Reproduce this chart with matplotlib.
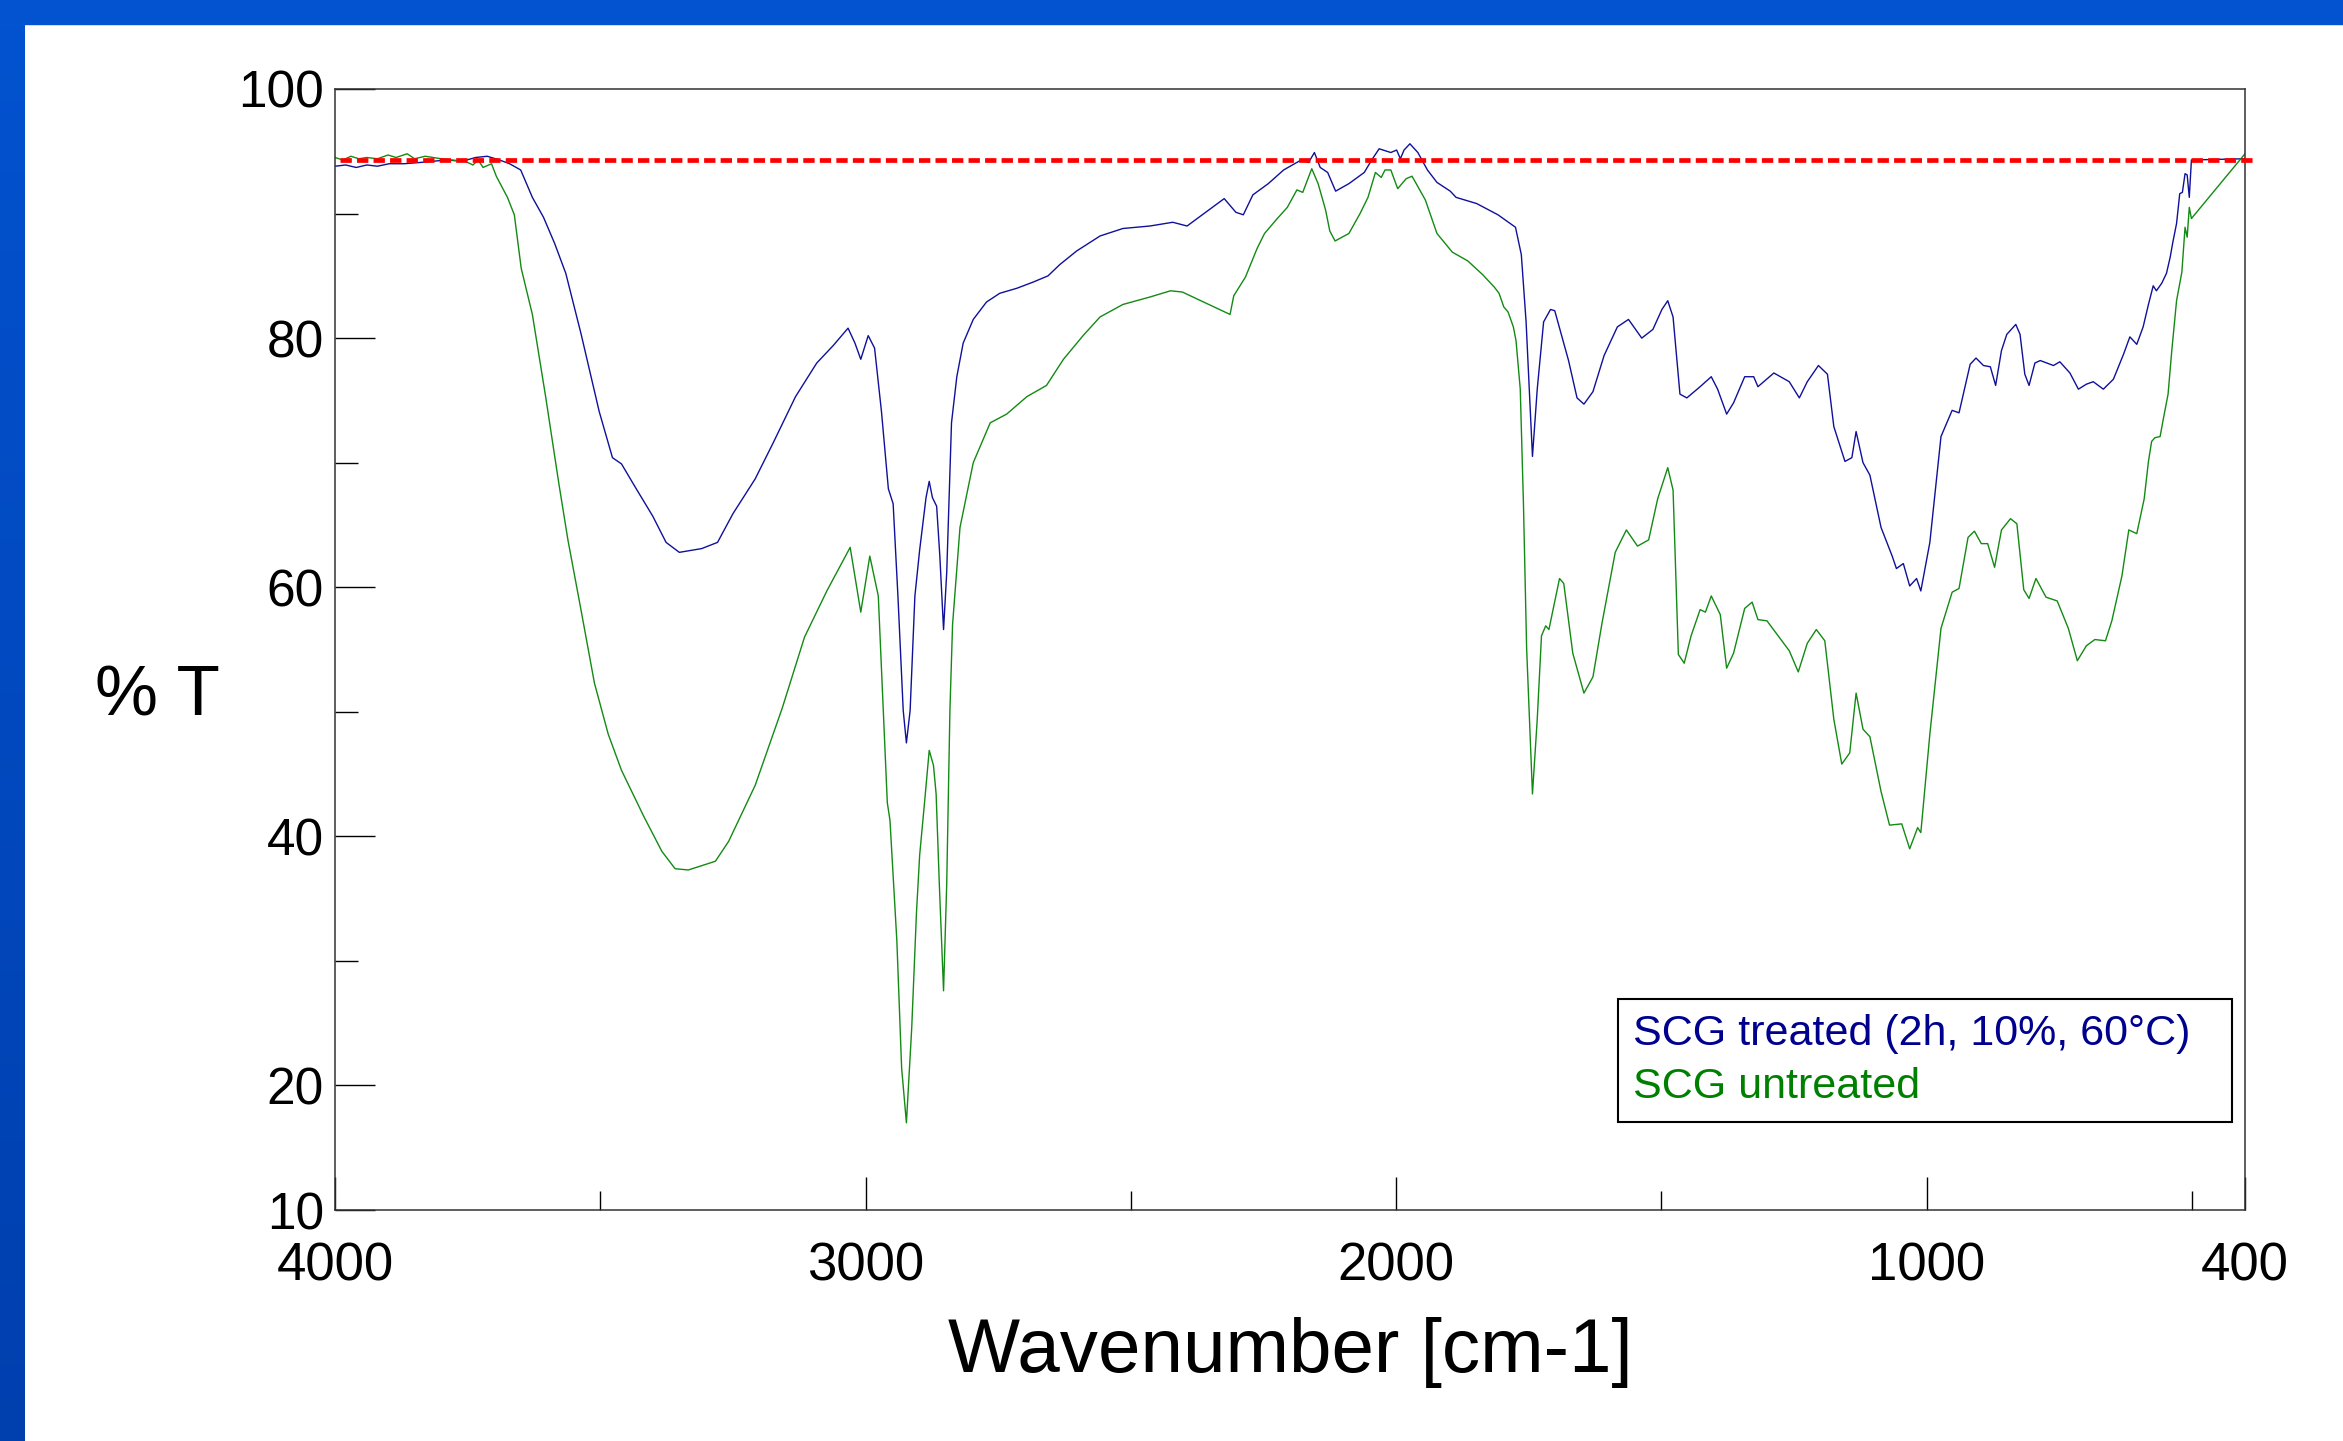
import numpy as np
import matplotlib
matplotlib.use("Agg")
import matplotlib.pyplot as plt

plt.rcParams['font.family'] = ['Liberation Sans', 'DejaVu Sans']

# FTIR spectra: wavenumber [cm-1] and % transmittance
wn_treated = [4000, 3980, 3960, 3940, 3920, 3898, 3870, 3840, 3814, 3790, 3760, 3735, 3713, 3690, 3671,
              3650, 3628, 3607, 3586, 3565, 3536, 3502, 3477, 3460, 3435, 3401, 3376, 3351, 3309, 3279,
              3250, 3208, 3174, 3132, 3092, 3061, 3033, 3020, 3009, 2995, 2983, 2970, 2957, 2948, 2939,
              2929, 2923, 2916, 2907, 2898, 2886, 2880, 2874, 2866, 2860, 2853, 2847, 2838, 2828, 2816,
              2797, 2772, 2747, 2715, 2684, 2656, 2634, 2602, 2558, 2515, 2464, 2421, 2394, 2324, 2302,
              2288, 2270, 2241, 2212, 2179, 2165, 2154, 2143, 2129, 2114, 2089, 2060, 2046, 2032, 2010,
              1999, 1992, 1985, 1974, 1959, 1941, 1923, 1898, 1887, 1848, 1808, 1775, 1764, 1755, 1743,
              1734, 1722, 1709, 1701, 1675, 1659, 1646, 1629, 1608, 1583, 1562, 1537, 1516, 1499, 1488,
              1478, 1465, 1452, 1427, 1406, 1394, 1377, 1364, 1343, 1326, 1318, 1288, 1259, 1240, 1225,
              1204, 1187, 1175, 1154, 1141, 1133, 1120, 1107, 1086, 1065, 1057, 1044, 1032, 1019, 1011,
              994, 973, 952, 939, 918, 907, 893, 880, 870, 859, 849, 832, 824, 815, 807,
              796, 786, 761, 749, 730, 714, 699, 686, 667, 648, 629, 617, 604, 592, 582,
              573, 567, 557, 548, 541, 536, 529, 523, 518, 513, 509, 505, 501, 400]
t_treated = [93.8, 93.9, 93.7, 93.9, 93.8, 94.0, 94.0, 94.1, 94.2, 94.3, 94.2, 94.5, 94.6, 94.3, 94.0,
             93.5, 91.3, 89.7, 87.6, 85.2, 80.3, 74.1, 70.4, 69.9, 68.1, 65.7, 63.6, 62.8, 63.1, 63.6,
             65.9, 68.7, 71.6, 75.3, 78.0, 79.4, 80.8, 79.6, 78.3, 80.2, 79.2, 74.1, 67.9, 66.7, 59.3,
             50.1, 47.5, 50.1, 59.3, 63.0, 67.2, 68.5, 67.2, 66.5, 62.5, 56.6, 61.2, 73.2, 76.9, 79.6,
             81.5, 82.9, 83.6, 84.0, 84.5, 85.0, 85.9, 87.0, 88.2, 88.8, 89.0, 89.3, 89.0, 91.2, 90.1,
             89.9, 91.5, 92.4, 93.5, 94.3, 94.1, 94.9, 93.7, 93.3, 91.8, 92.4, 93.3, 94.3, 95.2, 94.9,
             95.1, 94.4, 95.1, 95.6, 94.9, 93.5, 92.5, 91.8, 91.3, 90.8, 89.9, 88.9, 86.7, 81.3, 70.5,
             75.9, 81.3, 82.3, 82.2, 78.2, 75.2, 74.7, 75.7, 78.6, 80.9, 81.5, 80.0, 80.7, 82.3, 83.0,
             81.7, 75.5, 75.2, 76.1, 76.9, 75.9, 73.9, 74.8, 76.9, 76.9, 76.1, 77.2, 76.5, 75.2, 76.5,
             77.8, 77.1, 72.9, 70.1, 70.4, 72.5, 70.0, 69.0, 64.8, 62.5, 61.5, 61.9, 60.1, 60.7, 59.7,
             63.6, 72.1, 74.2, 74.0, 77.9, 78.4, 77.8, 77.7, 76.2, 79.0, 80.3, 81.1, 80.3, 77.1, 76.2,
             78.0, 78.2, 77.8, 78.1, 77.2, 75.9, 76.3, 76.5, 75.9, 76.7, 78.7, 80.1, 79.5, 80.9, 82.7,
             84.2, 83.8, 84.4, 85.2, 86.5, 87.7, 89.2, 91.6, 91.7, 93.2, 93.1, 91.3, 94.3, 94.4]

wn_untreated = [4000, 3985, 3970, 3955, 3940, 3920, 3900, 3885, 3864, 3850, 3830, 3800, 3780, 3755, 3740,
                3730, 3721, 3705, 3696, 3675, 3662, 3649, 3628, 3603, 3578, 3561, 3536, 3511, 3485, 3460,
                3418, 3384, 3359, 3334, 3283, 3258, 3208, 3157, 3115, 3073, 3029, 3009, 2992, 2976, 2959,
                2954, 2941, 2932, 2923, 2913, 2904, 2898, 2888, 2880, 2872, 2867, 2861, 2853, 2847, 2841,
                2836, 2822, 2797, 2765, 2734, 2696, 2659, 2627, 2590, 2558, 2515, 2464, 2425, 2403, 2313,
                2306, 2284, 2262, 2248, 2226, 2205, 2187, 2176, 2159, 2147, 2133, 2125, 2115, 2089, 2068,
                2053, 2039, 2028, 2021, 2010, 1997, 1981, 1970, 1945, 1923, 1894, 1865, 1837, 1815, 1806,
                1797, 1789, 1779, 1774, 1766, 1760, 1754, 1743, 1734, 1726, 1718, 1712, 1692, 1684, 1667,
                1646, 1629, 1612, 1587, 1566, 1545, 1524, 1507, 1488, 1478, 1468, 1457, 1444, 1427, 1417,
                1406, 1389, 1377, 1364, 1343, 1329, 1318, 1301, 1280, 1259, 1242, 1225, 1208, 1192, 1175,
                1160, 1145, 1133, 1120, 1107, 1086, 1070, 1047, 1032, 1017, 1011, 994, 973, 952, 939,
                922, 910, 897, 885, 872, 859, 842, 830, 817, 807, 794, 775, 754, 733, 716,
                699, 683, 663, 651, 632, 619, 604, 590, 582, 576, 570, 560, 554, 545, 538,
                529, 519, 513, 509, 505, 501, 400]
t_untreated = [94.5, 94.3, 94.6, 94.4, 94.5, 94.4, 94.7, 94.5, 94.8, 94.4, 94.6, 94.4, 94.3, 94.2, 93.9,
               94.3, 93.7, 94.0, 93.0, 91.3, 89.9, 85.6, 81.9, 75.3, 68.3, 63.8, 58.1, 52.3, 48.2, 45.3,
               41.6, 38.8, 37.4, 37.3, 38.0, 39.6, 44.1, 50.3, 56.0, 59.7, 63.2, 58.0, 62.5, 59.3, 42.7,
               41.3, 31.6, 21.4, 17.0, 24.6, 33.9, 38.5, 43.1, 46.9, 45.7, 43.4, 36.2, 27.6, 36.2, 50.1,
               57.0, 64.8, 70.0, 73.2, 73.9, 75.3, 76.2, 78.3, 80.2, 81.7, 82.7, 83.3, 83.8, 83.7, 81.9,
               83.4, 84.9, 87.2, 88.4, 89.5, 90.5, 91.9, 91.7, 93.6, 92.4, 90.3, 88.6, 87.8, 88.4, 90.0,
               91.3, 93.3, 92.9, 93.5, 93.5, 92.0, 92.8, 93.0, 91.1, 88.4, 86.9, 86.2, 85.1, 84.1, 83.6,
               82.5, 82.1, 80.9, 79.8, 75.9, 66.7, 55.1, 43.4, 49.4, 56.1, 56.9, 56.6, 60.7, 60.3, 54.7,
               51.5, 52.8, 57.1, 62.8, 64.6, 63.3, 63.8, 67.1, 69.6, 67.8, 54.6, 53.9, 56.1, 58.2, 58.0,
               59.3, 57.8, 53.5, 54.7, 58.3, 58.8, 57.4, 57.3, 56.1, 54.9, 53.2, 55.5, 56.6, 55.7, 49.4,
               45.8, 46.7, 51.5, 48.6, 48.0, 43.6, 40.9, 41.0, 39.0, 40.7, 40.3, 48.2, 56.7, 59.6, 59.9,
               64.0, 64.5, 63.5, 63.5, 61.6, 64.6, 65.5, 65.1, 59.8, 59.1, 60.7, 59.2, 58.9, 56.7, 54.1,
               55.3, 55.8, 55.7, 57.3, 60.9, 64.6, 64.3, 67.1, 70.1, 71.7, 72.0, 72.1, 73.5, 75.5, 79.0,
               83.0, 85.3, 88.9, 88.1, 90.5, 89.6, 94.8]

baseline = 94.3
labels = ['SCG treated (2h, 10%, 60°C)', 'SCG untreated']
blue = '#10109a'
green = '#138a13'

W, H = 2343, 1441
fig = plt.figure(figsize=(W / 100, H / 100), dpi=100)

# blue slide frame (top bar + left bar with a slight gradient)
fig.patches.append(plt.Rectangle((0, 1 - 24 / H), 1, 24 / H, transform=fig.transFigure,
                                 color='#0352cf', zorder=0))
bar = fig.add_axes([0, 0, 25 / W, 1 - 24 / H])
grad = np.linspace(0, 1, 256).reshape(-1, 1)
cmap = matplotlib.colors.LinearSegmentedColormap.from_list('bar', ['#0352cf', '#003fae'])
bar.imshow(grad, aspect='auto', cmap=cmap)
bar.set_axis_off()

ax = fig.add_axes([335 / W, 1 - 1210 / H, (2245 - 335) / W, (1210 - 89) / H])
ax.plot(wn_treated, t_treated, color=blue, lw=1.0, label=labels[0])
ax.plot(wn_untreated, t_untreated, color=green, lw=1.0, label=labels[1])
ax.plot([3990, 385], [baseline, baseline], color='#ff0000', lw=3.4, dashes=(2.4, 1.1),
        clip_on=False, zorder=5)

ax.set_xlim(4000, 400)
ax.set_ylim(10, 100)
ax.set_xticks([4000, 3000, 2000, 1000, 400])
ax.set_xticks([3500, 2500, 1500, 500], minor=True)
ax.set_yticks([10, 20, 40, 60, 80, 100])
ax.set_yticks([30, 50, 70, 90], minor=True)

ax.tick_params(axis='y', which='major', direction='in', length=29, width=1, labelsize=37, pad=8)
ax.tick_params(axis='y', which='minor', direction='in', length=16.5, width=1)
ax.tick_params(axis='x', which='major', direction='in', length=24, width=1, labelsize=38, pad=23)
ax.tick_params(axis='x', which='minor', direction='in', length=14, width=1)
for s in ax.spines.values():
    s.set_color('#333333')
    s.set_linewidth(1.1)

fig.text(157 / W, 1 - 697 / H, '% T', ha='center', va='center', fontsize=51)
fig.text(1290 / W, 1 - 1352 / H, 'Wavenumber [cm-1]', ha='center', va='center', fontsize=55)

leg = ax.legend(loc='lower left', bbox_to_anchor=(0.6717, 0.0785, 0.3215, 0.11), mode='expand',
                handlelength=0, handletextpad=0, labelcolor=['#00008f', '#008000'], fontsize=31,
                fancybox=False, edgecolor='black', framealpha=1, borderpad=0.35,
                labelspacing=0.3, borderaxespad=0)
leg.get_frame().set_linewidth(1.5)
for h in leg.legend_handles:
    h.set_visible(False)

fig.savefig('out.png', dpi=100)
